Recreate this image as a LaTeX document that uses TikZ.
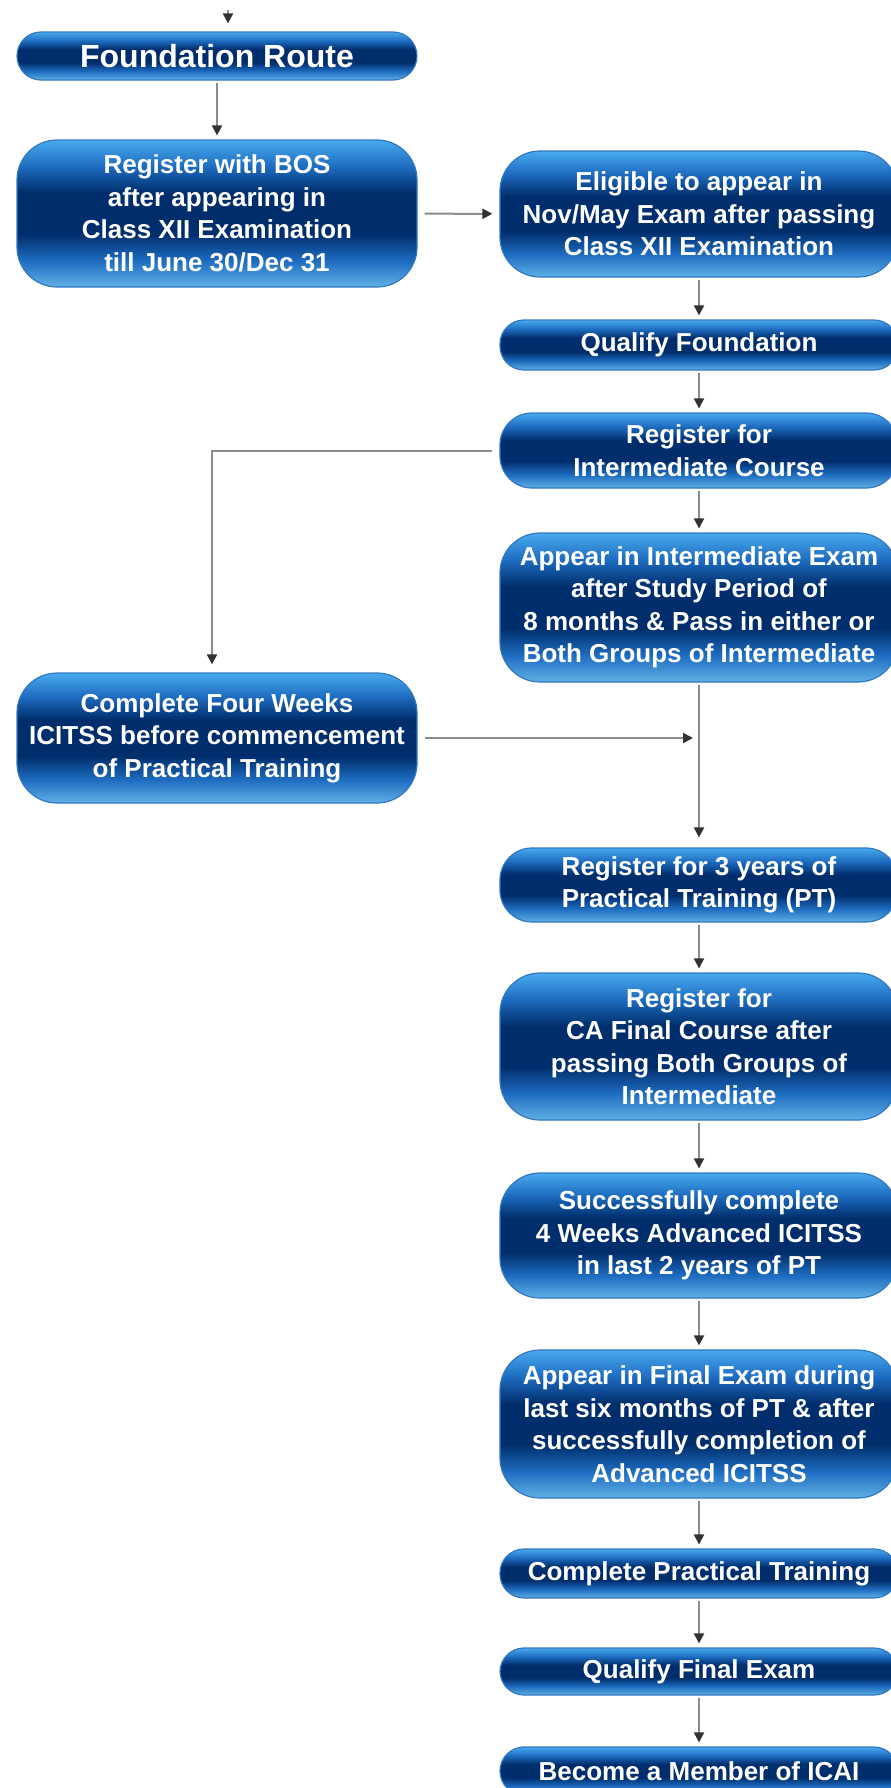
\documentclass[tikz,border=0pt]{standalone}
\usepackage{fontspec}
\setmainfont{Liberation Sans}
\usepackage{tikz}
\usetikzlibrary{arrows.meta}
\definecolor{boxtop}{RGB}{72, 170, 238}
\definecolor{boxmid}{RGB}{30, 108, 192}
\definecolor{boxdark}{RGB}{0, 46, 108}
\definecolor{boxbot}{RGB}{96, 176, 230}
\definecolor{boxedge}{RGB}{52, 118, 192}
\definecolor{wire}{RGB}{140, 140, 140}
\definecolor{tipgray}{RGB}{50, 50, 50}
% the path is mapped onto 25bp--75bp of the shading
\pgfdeclareverticalshading{boxfade}{100bp}{color(0bp)=(boxbot); color(25bp)=(boxbot); color(34bp)=(boxmid); color(43bp)=(boxdark); color(57bp)=(boxdark); color(66bp)=(boxmid); color(75bp)=(boxtop); color(100bp)=(boxtop)}

\begin{document}
\begin{tikzpicture}[x=1pt, y=-1pt,
  stepbox/.style={draw=boxedge, line width=1.2pt, shading=boxfade, text=white,
    align=center, inner sep=0pt, font=\bfseries\fontsize{26}{32.5}\selectfont,
    rounded corners=#1},
  stepbox/.default=40pt,
  lcol/.style={minimum width=400pt},
  rcol/.style={minimum width=398pt},
  arr/.style={draw=wire, line width=2pt, -{Triangle[length=10pt, width=10pt, color=tipgray]},
    shorten >=4pt, shorten <=2pt}]
  \clip (0, 0) rectangle (891, 1788);

  % left column
  \node[stepbox=24pt, lcol, minimum height=48pt, font=\bfseries\fontsize{32}{38}\selectfont]
    (fr) at (217, 56) {Foundation Route};
  \node[stepbox, lcol, minimum height=147pt] (bos) at (217, 213.5)
    {Register with BOS\\after appearing in\\Class XII Examination\\till June 30/Dec 31};
  \node[stepbox, lcol, minimum height=130pt] (cfw) at (217, 738)
    {Complete Four Weeks\\ICITSS before commencement\\of Practical Training};

  % right column
  \node[stepbox, rcol, minimum height=126pt] (elig) at (699, 214)
    {Eligible to appear in\\Nov/May Exam after passing\\Class XII Examination};
  \node[stepbox=24pt, rcol, minimum height=50pt] (qf) at (699, 345) {Qualify Foundation};
  \node[stepbox=32pt, rcol, minimum height=75pt] (ri) at (699, 450.5)
    {Register for\\Intermediate Course};
  \node[stepbox, rcol, minimum height=149pt] (aie) at (699, 607.5)
    {Appear in Intermediate Exam\\after Study Period of\\8 months \& Pass in either or\\Both Groups of Intermediate};
  \node[stepbox=32pt, rcol, minimum height=74pt] (pt) at (699, 885)
    {Register for 3 years of\\Practical Training (PT)};
  \node[stepbox, rcol, minimum height=147pt] (ca) at (699, 1046.5)
    {Register for\\CA Final Course after\\passing Both Groups of\\Intermediate};
  \node[stepbox, rcol, minimum height=125pt] (adv) at (699, 1235.5)
    {Successfully complete\\4 Weeks Advanced ICITSS\\in last 2 years of PT};
  \node[stepbox, rcol, minimum height=148pt] (fin) at (699, 1424)
    {Appear in Final Exam during\\last six months of PT \& after\\successfully completion of\\Advanced ICITSS};
  \node[stepbox=24pt, rcol, minimum height=49pt] (cpt) at (699, 1573.5) {Complete Practical Training};
  \node[stepbox=24pt, rcol, minimum height=47pt] (qfe) at (699, 1671.5) {Qualify Final Exam};
  \node[stepbox=24pt, rcol, minimum height=48pt] (mem) at (699, 1771) {Become a Member of ICAI};

  % connectors
  \coordinate (in) at (228, 8);
  \coordinate (join) at (aie.south |- cfw.east);
  \draw[arr, shorten >=8pt] (in) -- (in |- fr.north);
  \draw[arr] (fr) -- (fr |- bos.north);
  \draw[arr, shorten <=7pt, shorten >=7pt] (bos) -- (elig);
  \draw[arr] (elig) -- (qf);
  \draw[arr] (qf) -- (ri);
  \draw[arr, shorten <=7pt, shorten >=8pt] (ri.west) -| ([xshift=-5pt]cfw.north);
  \draw[arr] (ri) -- (aie);
  \draw[arr, shorten >=10pt] (aie) -- (pt);
  \draw[arr, shorten <=7pt, shorten >=6pt] (cfw.east) -- (join);
  \foreach \a/\b in {pt/ca, ca/adv, adv/fin, fin/cpt, cpt/qfe, qfe/mem}
    \draw[arr] (\a) -- (\b);
\end{tikzpicture}
\end{document}
